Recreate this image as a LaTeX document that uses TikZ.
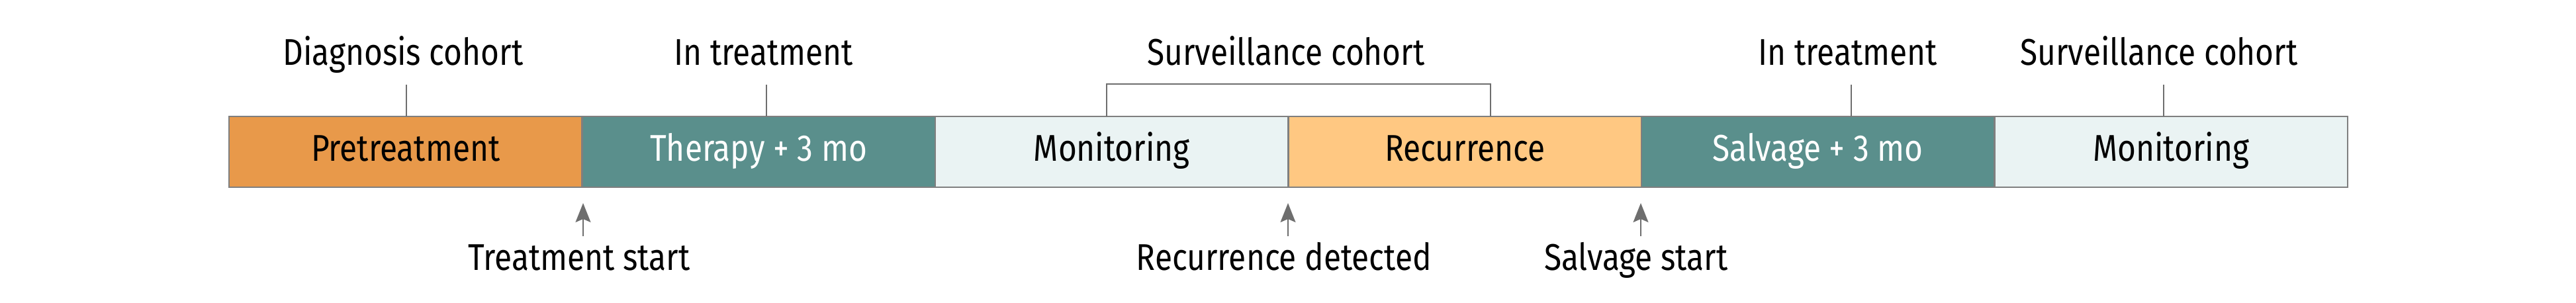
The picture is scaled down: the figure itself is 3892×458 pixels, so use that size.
\documentclass[tikz,border=0pt]{standalone}
\usepackage{fontspec}
\setmainfont{Fira Sans}[FakeStretch=0.85]
\usetikzlibrary{positioning,arrows.meta}
\definecolor{preorange}{HTML}{E8994A}
\definecolor{theroteal}{HTML}{5A8F8C}
\definecolor{monitcyan}{HTML}{EAF3F3}
\definecolor{recpeach}{HTML}{FFC882}
\definecolor{edgegray}{HTML}{7F7F7F}
\definecolor{tickgray}{HTML}{6E6E6E}

\begin{document}
\begin{tikzpicture}[x=0.01cm,y=0.01cm,font=\fontsize{16}{18}\selectfont,
  >={Stealth[length=2.9mm,width=2.3mm,inset=0.5mm]},
  seg/.style={draw=edgegray,line width=0.7pt,outer sep=0pt,minimum width=5.332cm,minimum height=1.07cm,
    text height=1.55ex,text depth=0pt,anchor=west},
  toplab/.style={anchor=base},
  botlab/.style={anchor=base},
  tick/.style={draw=tickgray,line width=0.45pt},
  event/.style={draw=tickgray,line width=0.4pt,->}]
  \useasboundingbox (0,0) rectangle (3892,458);
  % phases along the bar
  \node[seg,fill=preorange] (pre) at (346,228.5) {Pretreatment};
  \node[seg,fill=theroteal,text=white,right=0pt of pre] (ther) {Therapy + 3 mo};
  \node[seg,fill=monitcyan,right=0pt of ther] (mon) {Monitoring};
  \node[seg,fill=recpeach,right=0pt of mon] (rec) {Recurrence};
  \node[seg,fill=theroteal,text=white,right=0pt of rec] (salv) {Salvage + 3 mo};
  \node[seg,fill=monitcyan,right=0pt of salv] (mon2) {Monitoring};
  % cohort labels above
  \node[toplab] (diag) at (609,359) {Diagnosis cohort};
  \node[toplab] (intr) at (1154,359) {In treatment};
  \node[toplab] (surv) at (1943,359) {Surveillance cohort};
  \node[toplab] (intr2) at (2792,359) {In treatment};
  \node[toplab] (surv2) at (3262,359) {Surveillance cohort};
  \coordinate (tdiag) at (614,330);
  \coordinate (tintr) at (1158,330);
  \coordinate (tintr2) at (2797,330);
  \coordinate (tsurv2) at (3269,330);
  \coordinate (bl) at (1672,331);
  \coordinate (br) at (2252,331);
  \draw[tick] (tdiag) -- (pre.north -| tdiag);
  \draw[tick] (tintr) -- (ther.north -| tintr);
  \draw[tick] (tintr2) -- (salv.north -| tintr2);
  \draw[tick] (tsurv2) -- (mon2.north -| tsurv2);
  \draw[tick,line width=0.5pt] (mon.north -| bl) -- (bl) -- (br) -- (rec.north -| br);
  % events below
  \node[botlab] (tstart) at (875,49) {Treatment start};
  \node[botlab] (rdet) at (1940,49) {Recurrence detected};
  \node[botlab] (sstart) at (2472,49) {Salvage start};
  \coordinate (atstart) at (881,101);
  \coordinate (ardet) at (1946,101);
  \coordinate (asstart) at (2479,101);
  \draw[event] (atstart) -- ++(0,50);
  \draw[event] (ardet) -- ++(0,50);
  \draw[event] (asstart) -- ++(0,50);
\end{tikzpicture}
\end{document}
